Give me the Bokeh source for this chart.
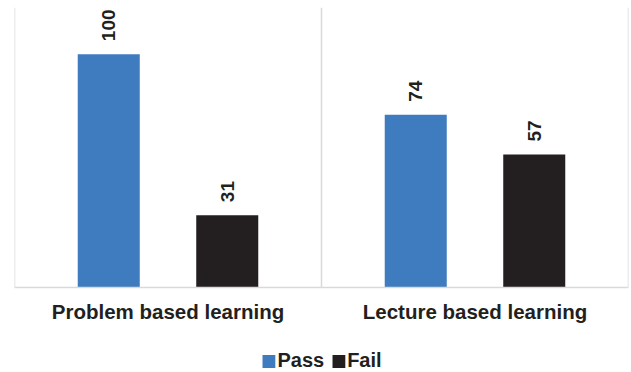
import math
from bokeh.plotting import figure
from bokeh.models import ColumnDataSource, Legend, LegendItem, Span
from bokeh.core.properties import value
from bokeh.embed import file_html
from bokeh.resources import INLINE

categories = ["Problem based learning", "Lecture based learning"]
pass_values = [100, 74]
fail_values = [31, 57]
series_names = ["Pass", "Fail"]
colors = ["#3F7BBF", "#231F20"]

cat_pos = [i + 0.5 for i in range(len(categories))]
boundaries = [float(i) for i in range(len(categories) + 1)]
off = 0.193
bw = 0.202
y_max = 120
# space below the baseline (in data units) for category labels and legend
y_min = -36.43

p = figure(width=631, height=372, output_backend="svg", toolbar_location=None,
           x_range=(0, len(categories)), y_range=(y_min, y_max),
           x_axis_location=None, y_axis_location=None,
           min_border_left=14, min_border_right=3, min_border_top=7, min_border_bottom=0)
p.outline_line_color = None
p.background_fill_color = "white"
p.border_fill_color = "white"
p.grid.visible = False

# gridlines separating categories (from baseline up to top)
p.segment(x0=boundaries, y0=[0] * len(boundaries), x1=boundaries, y1=[y_max] * len(boundaries),
          line_color="#D9D9D9", line_width=1.5)
p.add_layout(Span(location=0, dimension="width", line_color="#D9D9D9", line_width=1.5))

src_pass = ColumnDataSource(dict(x=[c - off for c in cat_pos], top=pass_values,
                                 lab=[str(v) for v in pass_values]))
src_fail = ColumnDataSource(dict(x=[c + off for c in cat_pos], top=fail_values,
                                 lab=[str(v) for v in fail_values]))

r1 = p.vbar(x="x", top="top", width=bw, source=src_pass, color=colors[0], line_color=None)
r2 = p.vbar(x="x", top="top", width=bw, source=src_fail, color=colors[1], line_color=None)

for src in (src_pass, src_fail):
    p.text(x="x", y="top", text="lab", source=src, angle=math.pi / 2,
           text_align="left", text_baseline="middle", y_offset=-13,
           text_font=value("Liberation Sans"), text_font_style="bold",
           text_font_size="19px", text_color="#231F20")

# category labels under the baseline
cat_src = ColumnDataSource(dict(x=cat_pos, y=[0] * len(cat_pos), lab=categories))
p.text(x="x", y="y", text="lab", source=cat_src, text_align="center",
       text_baseline="middle", y_offset=24,
       text_font=value("Liberation Sans"), text_font_style="bold",
       text_font_size="20.5px", text_color="#231F20")

legend = Legend(items=[LegendItem(label=series_names[0], renderers=[r1]),
                       LegendItem(label=series_names[1], renderers=[r2])],
                orientation="horizontal", location="bottom_center")
legend.label_text_font = "Liberation Sans"
legend.label_text_font_style = "bold"
legend.label_text_font_size = "20px"
legend.label_text_color = "#231F20"
legend.label_height = 20
legend.glyph_width = 16
legend.glyph_height = 16
legend.label_standoff = 1
legend.spacing = 6
legend.padding = 0
legend.margin = 0
legend.border_line_color = None
legend.background_fill_alpha = 0
p.add_layout(legend, "center")

open("out.html", "w").write(file_html(p, INLINE))
